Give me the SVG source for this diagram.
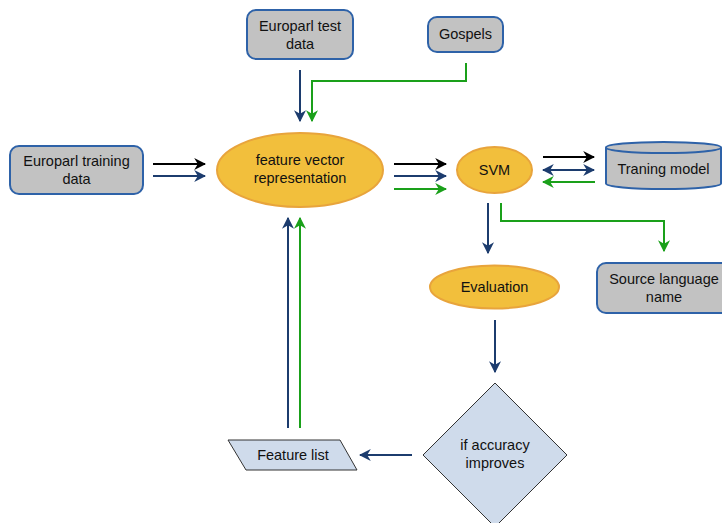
<svg xmlns="http://www.w3.org/2000/svg" width="722" height="523" viewBox="0 0 722 523">
<defs>
<style>
.box{fill:#c2c2c2;stroke:#2e62a8;stroke-width:2}
.oval{fill:#f2bf3c;stroke:#e8a43c;stroke-width:2}
.dia{fill:#cfdbeb;stroke:#333;stroke-width:1}
text{font-family:"Liberation Sans",Arial,sans-serif;font-size:14.5px;fill:#111;text-anchor:middle}
.k{stroke:#000;stroke-width:2;fill:none}
.b{stroke:#1c3c6e;stroke-width:2;fill:none}
.g{stroke:#1aa01a;stroke-width:2;fill:none}
</style>
<marker id="ab" viewBox="0 0 10 10" refX="9" refY="5" markerWidth="12" markerHeight="12" orient="auto-start-reverse" markerUnits="userSpaceOnUse"><path d="M0,0 L10,5 L0,10 L3,5 z" fill="#1c3c6e"/></marker>
<marker id="ag" viewBox="0 0 10 10" refX="9" refY="5" markerWidth="12" markerHeight="12" orient="auto-start-reverse" markerUnits="userSpaceOnUse"><path d="M0,0 L10,5 L0,10 L3,5 z" fill="#1aa01a"/></marker>
<marker id="akk" viewBox="0 0 10 10" refX="9" refY="5" markerWidth="12" markerHeight="12" orient="auto-start-reverse" markerUnits="userSpaceOnUse"><path d="M0,0 L10,5 L0,10 L3,5 z" fill="#000"/></marker>
</defs>

<g id="connectors">
<line class="k" x1="153" y1="164" x2="205" y2="164" marker-end="url(#akk)"/>
<line class="b" x1="153" y1="176" x2="205" y2="176" marker-end="url(#ab)"/>
<line class="b" x1="300" y1="70" x2="300" y2="121" marker-end="url(#ab)"/>
<polyline class="g" points="466,63 466,81 312,81 312,121" marker-end="url(#ag)"/>
<line class="k" x1="394" y1="164" x2="446" y2="164" marker-end="url(#akk)"/>
<line class="b" x1="394" y1="176" x2="446" y2="176" marker-end="url(#ab)"/>
<line class="g" x1="394" y1="189" x2="446" y2="189" marker-end="url(#ag)"/>
<line class="k" x1="543" y1="157" x2="594" y2="157" marker-end="url(#akk)"/>
<line class="b" x1="543" y1="170" x2="594" y2="170" marker-start="url(#ab)" marker-end="url(#ab)"/>
<line class="g" x1="595" y1="182" x2="543" y2="182" marker-end="url(#ag)"/>
<line class="b" x1="488" y1="203" x2="488" y2="253" marker-end="url(#ab)"/>
<polyline class="g" points="501,203 501,221 664,221 664,251" marker-end="url(#ag)"/>
<line class="b" x1="495" y1="320" x2="495" y2="372" marker-end="url(#ab)"/>
<line class="b" x1="412" y1="455" x2="360" y2="455" marker-end="url(#ab)"/>
<line class="b" x1="288" y1="428" x2="288" y2="218" marker-end="url(#ab)"/>
<line class="g" x1="300" y1="428" x2="300" y2="218" marker-end="url(#ag)"/>
</g>

<g id="test-data">
<rect class="box" x="247" y="10" width="106" height="49" rx="9"/>
<text x="300" y="31">Europarl test</text>
<text x="300" y="49">data</text>
</g>
<g id="gospels">
<rect class="box" x="428" y="17" width="75" height="35" rx="9"/>
<text x="465.5" y="39">Gospels</text>
</g>
<g id="training-data">
<rect class="box" x="10" y="146" width="133" height="48" rx="9"/>
<text x="76.5" y="166">Europarl training</text>
<text x="76.5" y="184">data</text>
</g>
<g id="feature-vector">
<ellipse class="oval" cx="300" cy="170" rx="83" ry="37"/>
<text x="300" y="165">feature vector</text>
<text x="300" y="183">representation</text>
</g>
<g id="svm">
<ellipse class="oval" cx="494.5" cy="170" rx="37.5" ry="23"/>
<text x="494.5" y="175">SVM</text>
</g>
<g id="training-model">
<path class="box" d="M606,147.5 L606,183.5 A57.5,5.5 0 0 0 721,183.5 L721,147.5"/>
<ellipse class="box" cx="663.5" cy="147.5" rx="57.5" ry="5.5"/>
<text x="663.5" y="174">Traning model</text>
</g>
<g id="evaluation">
<ellipse class="oval" cx="494.5" cy="287" rx="64.5" ry="21.5"/>
<text x="494.5" y="292">Evaluation</text>
</g>
<g id="source-language">
<rect class="box" x="597" y="263" width="134" height="50" rx="9"/>
<text x="664" y="284">Source language</text>
<text x="664" y="302">name</text>
</g>
<g id="accuracy">
<polygon class="dia" points="495,383 567,455 495,527 423,455"/>
<text x="495" y="450">if accuracy</text>
<text x="495" y="468">improves</text>
</g>
<g id="feature-list">
<polygon class="dia" points="228,440 340,440 357,470 246,470"/>
<text x="293" y="460">Feature list</text>
</g>
</svg>
